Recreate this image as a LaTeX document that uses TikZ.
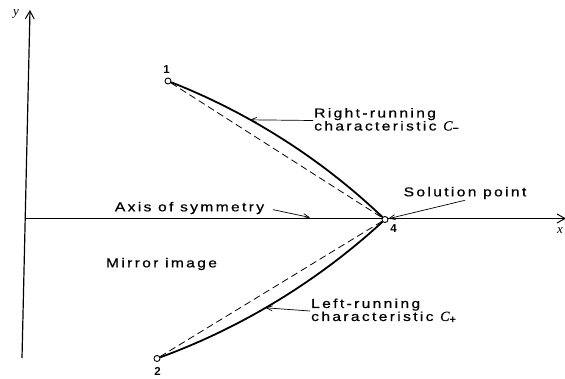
\documentclass[tikz,border=0pt]{standalone}
\usepackage{fontspec}
\setmainfont{Liberation Serif}
\newfontfamily\labfont[FakeStretch=1.2,LetterSpace=18,FakeBold=0.6]{Liberation Sans}
\newfontfamily\numfont{Liberation Sans}
\newfontfamily\cfont[FakeBold=0.4]{Liberation Serif}
\newcommand{\charC}[1]{{\cfont\itshape\fontsize{14}{13}\selectfont C}\raisebox{-2.5pt}{\numfont\bfseries\fontsize{11}{11}\selectfont #1}}
\usetikzlibrary{arrows.meta}
\tikzset{
  axisline/.style={line width=1.2pt, -{Straight Barb[length=8pt,width=9pt,line width=1pt]}},
  charline/.style={line width=1.8pt},
  chordline/.style={line width=0.8pt, dash pattern=on 7pt off 4pt},
  ptnode/.style={circle, draw, fill=white, inner sep=0pt, minimum size=6pt, line width=0.9pt},
  lab/.style={font=\labfont\fontsize{13}{13}\selectfont, inner sep=1pt},
  numlab/.style={font=\numfont\bfseries\fontsize{11.5}{12}\selectfont, inner sep=0pt},
  axlab/.style={font=\itshape\fontsize{13}{13}\selectfont, inner sep=0pt},
  lblarrow/.style={line width=0.7pt, -{Straight Barb[length=6pt,width=5pt,line width=0.7pt]}}
}
\begin{document}
\begin{tikzpicture}[x=1pt,y=-1pt]
\useasboundingbox (0,0) rectangle (565,378);
% axes
\coordinate (yb) at (22,358);
\coordinate (yt) at (30,10);
\coordinate (xo) at (25.2,218.5);
\coordinate (xe) at (566,218.5);
\draw[axisline] (yb) -- (yt);
\draw[axisline] (xo) -- (xe);
\node[axlab] (ylab) at (16,14) {y};
\node[axlab] (xlab) at (560,231) {x};
% points
\node[ptnode] (p1) at (168,81) {};
\node[ptnode] (p4) at (385,219.5) {};
\node[ptnode] (p2) at (157,358.5) {};
\node[numlab] (n1) at (166.5,70) {1};
\node[numlab] (n4) at (393.5,228.5) {4};
\node[numlab] (n2) at (157.5,371.5) {2};
% characteristics
\draw[charline] (p1) .. controls (249.3,113) and (321.7,159.2) .. (p4);
\draw[charline] (p2) .. controls (241.7,327.5) and (317.7,281.2) .. (p4);
\draw[chordline] (p1) -- (p4);
\draw[chordline] (p2) -- (p4);
% labels
\node[lab, align=left, anchor=west] (rr) at (313,120.5) {Right-running\\characteristic \charC{−}};
\node[lab, align=left, anchor=west] (lr) at (310,311) {Left-running\\characteristic \charC{+}};
\node[lab] (sp) at (465,193) {Solution point};
\node[lab] (ax) at (189.5,208) {Axis of symmetry};
\node[lab] (mi) at (161.5,264) {Mirror image};
\coordinate (rrt) at (250,119.8);
\coordinate (lrt) at (265.5,307.8);
\coordinate (axt) at (310,217.5);
\draw[lblarrow] (rr.west) -- (rrt);
\draw[lblarrow] (lr.west) -- (lrt);
\draw[lblarrow, shorten <=8pt] (ax.east) -- (axt);
\draw[lblarrow] (sp.south) -- (p4);
\end{tikzpicture}
\end{document}
